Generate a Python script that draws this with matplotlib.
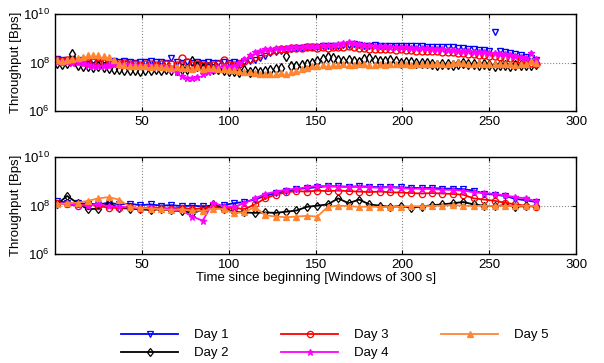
import numpy as np
import matplotlib
matplotlib.use("Agg")
import matplotlib.pyplot as plt
from matplotlib.ticker import NullLocator

plt.rcParams["font.family"] = ["Liberation Sans", "DejaVu Sans"]
plt.rcParams["mathtext.fontset"] = "custom"
plt.rcParams["mathtext.rm"] = "Liberation Sans"
plt.rcParams["mathtext.it"] = "Liberation Sans"

# window index (top: every 3rd window, bottom: every 6th window)
windows_top = np.arange(1, 278, 3)
windows_bottom = np.arange(1, 278, 6)

# top panel, log10 of throughput [Bps]
day1_top = [8.15, 8.12, 8.10, 8.13, 8.08, 8.10, 8.06, 8.08, 8.05, 8.07,
            8.04, 8.06, 8.02, 8.05, 8.03, 8.00, 8.04, 8.02, 8.05, 8.01,
            8.03, 8.00, 8.20, 8.04, 8.00, 8.02, 7.98, 8.01, 7.99, 8.02,
            8.00, 7.98, 8.02, 8.00, 8.01, 7.99, 8.03, 8.05, 8.10, 8.18,
            8.28, 8.38, 8.45, 8.50, 8.54, 8.57, 8.60, 8.62, 8.63, 8.65,
            8.66, 8.68, 8.68, 8.70, 8.70, 8.72, 8.74, 8.76, 8.72, 8.70,
            8.70, 8.71, 8.69, 8.70, 8.68, 8.70, 8.69, 8.68, 8.70, 8.68,
            8.67, 8.66, 8.66, 8.65, 8.64, 8.65, 8.63, 8.62, 8.60, 8.58,
            8.56, 8.54, 8.52, 8.50, 9.25, 8.47, 8.44, 8.40, 8.36, 8.30,
            8.25, 8.18, 8.10]
day2_top = [8.00, 7.95, 7.98, 8.35, 7.90, 7.88, 7.85, 7.82, 7.86, 7.80,
            7.78, 7.75, 7.72, 7.70, 7.68, 7.70, 7.66, 7.68, 7.70, 7.72,
            7.70, 7.72, 7.68, 7.70, 7.74, 7.72, 8.05, 7.85, 7.78, 7.80,
            7.75, 7.72, 7.70, 7.65, 7.66, 7.62, 7.68, 7.60, 7.64, 7.62,
            7.66, 7.70, 7.72, 7.78, 8.28, 7.85, 7.88, 7.92, 7.95, 8.00,
            8.05, 8.15, 8.22, 8.18, 8.10, 8.05, 8.12, 8.08, 8.02, 8.15,
            8.18, 8.10, 8.05, 8.08, 8.12, 8.05, 8.00, 8.04, 8.02, 7.98,
            8.00, 7.98, 7.95, 7.92, 7.96, 7.94, 7.90, 7.95, 7.98, 7.96,
            7.94, 7.90, 7.95, 7.92, 7.88, 7.92, 7.90, 7.88, 7.92, 7.90,
            7.92, 7.90, 7.94]
day3_top = [8.12, 8.08, 8.10, 8.05, 8.08, 8.02, 8.00, 8.04, 7.98, 8.00,
            7.96, 7.98, 7.95, 7.97, 7.93, 7.95, 7.92, 7.94, 7.96, 7.92,
            7.95, 7.93, 7.96, 7.92, 8.18, 8.02, 7.90, 7.94, 7.92, 7.88,
            7.90, 7.95, 8.10, 7.92, 7.90, 7.95, 8.05, 8.15, 8.25, 8.35,
            8.42, 8.48, 8.52, 8.55, 8.58, 8.60, 8.62, 8.62, 8.64, 8.63,
            8.62, 8.64, 8.62, 8.63, 8.64, 8.66, 8.68, 8.64, 8.62, 8.60,
            8.58, 8.56, 8.57, 8.55, 8.56, 8.54, 8.55, 8.53, 8.52, 8.50,
            8.50, 8.48, 8.46, 8.47, 8.45, 8.44, 8.42, 8.40, 8.38, 8.36,
            8.34, 8.32, 8.30, 8.28, 8.26, 8.24, 8.20, 8.18, 8.14, 8.10,
            8.05, 8.00, 7.95]
day4_top = [8.05, 8.02, 8.06, 8.00, 8.02, 7.98, 7.92, 7.88, 7.85, 7.88,
            7.92, 7.95, 7.96, 7.94, 7.92, 7.90, 7.88, 7.86, 7.85, 7.83,
            7.82, 7.80, 7.75, 7.62, 7.45, 7.35, 7.38, 7.42, 7.55, 7.60,
            7.70, 7.80, 7.85, 7.82, 7.88, 8.00, 8.15, 8.30, 8.42, 8.50,
            8.55, 8.58, 8.60, 8.62, 8.62, 8.64, 8.65, 8.66, 8.68, 8.68,
            8.70, 8.72, 8.72, 8.74, 8.76, 8.80, 8.84, 8.80, 8.76, 8.74,
            8.72, 8.70, 8.70, 8.68, 8.66, 8.66, 8.65, 8.64, 8.62, 8.62,
            8.60, 8.60, 8.58, 8.56, 8.55, 8.54, 8.52, 8.50, 8.48, 8.46,
            8.45, 8.44, 8.42, 8.40, 8.38, 8.36, 8.34, 8.30, 8.26, 8.22,
            8.18, 8.40, 8.15]
day5_top = [8.10, 8.08, 8.12, 8.15, 8.20, 8.25, 8.30, 8.32, 8.30, 8.28,
            8.25, 8.10, 7.95, 7.90, 7.88, 7.85, 7.88, 7.84, 7.82, 7.85,
            7.80, 7.82, 7.78, 7.80, 7.76, 7.78, 7.75, 7.80, 7.74, 7.76,
            7.78, 7.72, 7.75, 7.70, 7.68, 7.65, 7.62, 7.60, 7.58, 7.55,
            7.55, 7.52, 7.55, 7.58, 7.55, 7.60, 7.65, 7.72, 7.78, 7.85,
            7.88, 7.90, 7.88, 7.92, 7.90, 7.94, 7.92, 7.90, 7.93, 7.95,
            7.92, 7.90, 7.94, 7.92, 7.95, 7.93, 7.96, 7.94, 7.92, 7.95,
            7.94, 7.96, 7.95, 7.98, 7.96, 7.94, 7.97, 8.02, 7.98, 7.96,
            7.95, 7.97, 7.94, 7.96, 7.95, 7.93, 7.96, 7.94, 7.92, 7.95,
            7.96, 8.05, 7.98]

# bottom panel, log10 of throughput [Bps]
day1_bottom = [8.20, 8.12, 8.10, 8.08, 8.05, 8.12, 8.05, 8.08, 8.02, 8.05,
               8.00, 8.02, 7.98, 8.00, 7.97, 8.00, 8.02, 8.10, 8.15, 8.25,
               8.40, 8.52, 8.60, 8.68, 8.72, 8.76, 8.80, 8.80, 8.78, 8.80,
               8.78, 8.76, 8.77, 8.75, 8.74, 8.72, 8.73, 8.70, 8.70, 8.68,
               8.62, 8.50, 8.45, 8.40, 8.28, 8.22, 8.15]
day2_bottom = [8.05, 8.40, 8.10, 7.85, 7.88, 8.10, 7.90, 7.88, 7.85, 7.82,
               7.85, 7.80, 7.78, 7.70, 7.82, 8.05, 7.88, 7.75, 7.72, 7.70,
               7.72, 7.70, 7.75, 7.80, 7.95, 8.00, 8.05, 8.30, 8.10, 8.25,
               8.05, 8.00, 7.95, 7.98, 7.92, 7.96, 8.02, 8.05, 8.10, 8.15,
               8.05, 8.00, 7.98, 8.02, 7.96, 7.98, 8.00]
day3_bottom = [8.10, 8.05, 8.00, 8.05, 7.98, 7.92, 7.90, 7.95, 7.88, 7.92,
               7.90, 7.88, 7.92, 7.85, 7.90, 7.95, 7.88, 7.92, 7.85, 8.05,
               8.30, 8.45, 8.55, 8.60, 8.58, 8.62, 8.60, 8.62, 8.60, 8.58,
               8.56, 8.58, 8.55, 8.54, 8.52, 8.50, 8.52, 8.50, 8.48, 8.45,
               8.30, 8.25, 8.20, 8.12, 8.05, 8.00, 7.95]
day4_bottom = [8.05, 8.08, 8.02, 8.00, 8.05, 7.98, 7.95, 7.92, 7.90, 7.92,
               7.88, 7.85, 7.80, 7.55, 7.38, 8.12, 7.98, 7.95, 8.10, 8.30,
               8.48, 8.58, 8.66, 8.70, 8.76, 8.82, 8.80, 8.78, 8.76, 8.78,
               8.75, 8.74, 8.76, 8.72, 8.70, 8.70, 8.68, 8.66, 8.65, 8.62,
               8.55, 8.52, 8.48, 8.42, 8.35, 8.30, 8.18]
day5_bottom = [8.05, 8.10, 8.12, 8.20, 8.30, 8.35, 8.25, 7.95, 7.90, 7.88,
               7.85, 7.82, 7.85, 7.80, 7.78, 7.88, 7.85, 7.70, 7.72, 7.95,
               7.60, 7.55, 7.52, 7.55, 7.58, 7.55, 7.95, 8.00, 7.98, 7.95,
               7.96, 7.95, 7.94, 7.96, 7.98, 7.97, 7.99, 8.00, 8.02, 8.00,
               7.98, 8.00, 7.98, 7.99, 7.98, 8.00, 7.98]

labels = ["Day 1", "Day 2", "Day 3", "Day 4", "Day 5"]
colors = ["#0000ff", "#000000", "#ff0000", "#ff00ff", "#ff8533"]
markers = ["v", "d", "o", "*", "^"]
filled = [False, False, False, True, True]

top_series = [day1_top, day2_top, day3_top, day4_top, day5_top]
bottom_series = [day1_bottom, day2_bottom, day3_bottom, day4_bottom, day5_bottom]


def style_axes(ax):
    ax.set_yscale("log")
    ax.set_xlim(0, 300)
    ax.set_ylim(1e6, 1e10)
    ax.set_xticks([50, 100, 150, 200, 250, 300])
    ax.set_yticks([1e6, 1e8, 1e10])
    ax.set_yticklabels([r"$10^{6}$", r"$10^{8}$", r"$10^{10}$"])
    ax.yaxis.set_minor_locator(NullLocator())
    ax.tick_params(direction="in", length=3, top=True, right=True, labelsize=9.5)
    ax.grid(True, linestyle=":", color="#888888", linewidth=0.8)
    ax.set_ylabel("Throughput [Bps]", fontsize=9.5, labelpad=1)
    for sp in ax.spines.values():
        sp.set_linewidth(1.0)


fig = plt.figure(figsize=(6.04, 3.63), dpi=100)
ax1 = fig.add_axes([0.091, 0.694, 0.863, 0.267])
ax2 = fig.add_axes([0.091, 0.300, 0.863, 0.267])

for vals, c, m, f in zip(top_series, colors, markers, filled):
    ax1.plot(windows_top, 10 ** np.array(vals), linestyle="none", marker=m,
             markersize=5, color=c, markerfacecolor=c if f else "none",
             markeredgewidth=1.0)

handles = []
for vals, c, m, f, lab in zip(bottom_series, colors, markers, filled, labels):
    h, = ax2.plot(windows_bottom, 10 ** np.array(vals), linestyle="-",
                  linewidth=1.3, marker=m, markersize=4.5, color=c,
                  markerfacecolor=c if f else "none", markeredgewidth=0.9,
                  label=lab)
    handles.append(h)

style_axes(ax1)
style_axes(ax2)
ax2.set_xlabel("Time since beginning [Windows of 300 s]", fontsize=9.5, labelpad=1)

fig.legend(handles=handles, labels=labels, ncol=3, frameon=False,
           loc="upper left", bbox_to_anchor=(0.19, 0.112), fontsize=9.5,
           handlelength=4.3, handletextpad=1.2, columnspacing=4.0,
           labelspacing=0.45, borderpad=0)

fig.savefig("out.png", dpi=100)
